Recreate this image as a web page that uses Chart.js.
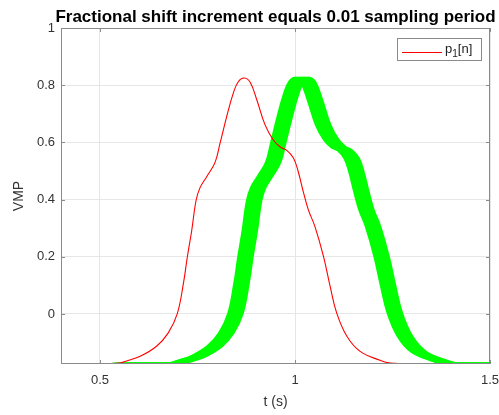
<!DOCTYPE html>
<html>
<head>
<meta charset="utf-8">
<script src="https://cdn.jsdelivr.net/npm/chart.js@4.4.1/dist/chart.umd.min.js"></script>
<style>
  html, body { margin: 0; padding: 0; background: #fff; }
  #wrap { width: 499px; height: 415px; }
</style>
</head>
<body>
<div id="wrap"><canvas id="c" width="499" height="415"></canvas></div>
<script>
// ---- Data ----
const tValues = [0.40, 0.50, 0.55, 0.564, 0.603, 0.645, 0.675, 0.698, 0.714, 0.724, 0.735, 0.746, 0.756, 0.774, 0.795, 0.808, 0.825, 0.842, 0.855, 0.870, 0.885, 0.902, 0.923, 0.944, 0.962, 0.979, 0.996, 1.008, 1.021, 1.034, 1.051, 1.073, 1.090, 1.107, 1.133, 1.167, 1.218, 1.244, 1.30, 1.50];
const p1Values = [-0.175, -0.175, -0.172, -0.166, -0.148, -0.113, -0.066, 0.000, 0.108, 0.200, 0.290, 0.395, 0.440, 0.481, 0.530, 0.598, 0.691, 0.773, 0.813, 0.825, 0.810, 0.749, 0.662, 0.609, 0.584, 0.572, 0.545, 0.499, 0.429, 0.365, 0.306, 0.201, 0.097, 0.003, -0.078, -0.131, -0.162, -0.172, -0.175, -0.175];
// fractional shifts (s) of the shifted copies forming the green band
const shifts = [0.131, 0.134, 0.137, 0.140, 0.143, 0.146, 0.149, 0.152, 0.155, 0.158, 0.161, 0.164, 0.167];
const xTicks = [0.5, 1, 1.5];
const yTicks = [0, 0.2, 0.4, 0.6, 0.8, 1];
const legendLabel = 'p₁[n]';
const titleText = 'Fractional shift increment equals 0.01 sampling period';

const FONT = '"Liberation Sans", Arial, Helvetica, sans-serif';

const redData = tValues.map((t, i) => ({x: t, y: p1Values[i]}));
const datasets = [{
  label: legendLabel,
  data: redData,
  borderColor: '#ff0000',
  borderWidth: 1.1,
  pointRadius: 0,
  tension: 0.4,
  fill: false,
  order: 0
}];
shifts.forEach((s) => {
  datasets.push({
    label: 'shift ' + s,
    data: tValues.map((t, i) => ({x: t + s, y: p1Values[i]})),
    borderColor: '#00ff00',
    borderWidth: 2.5,
    pointRadius: 0,
    tension: 0.4,
    fill: false,
    order: 1
  });
});

const boxPlugin = {
  id: 'matlabBox',
  afterDatasetsDraw(chart) {
    const {ctx, chartArea: a, scales} = chart;
    ctx.save();
    ctx.strokeStyle = '#8a8a8a';
    ctx.lineWidth = 1;
    ctx.beginPath();
    ctx.moveTo(a.left + 0.5, a.top + 0.5);
    ctx.lineTo(a.right - 0.5, a.top + 0.5);
    ctx.lineTo(a.right - 0.5, a.bottom - 0.5);
    ctx.lineTo(a.left + 0.5, a.bottom - 0.5);
    ctx.closePath();
    ctx.stroke();
    // inward ticks
    ctx.beginPath();
    xTicks.forEach(v => {
      const px = Math.round(scales.x.getPixelForValue(v)) + 0.5;
      ctx.moveTo(px, a.bottom); ctx.lineTo(px, a.bottom - 4);
      ctx.moveTo(px, a.top); ctx.lineTo(px, a.top + 4);
    });
    yTicks.forEach(v => {
      const py = Math.round(scales.y.getPixelForValue(v)) + 0.5;
      ctx.moveTo(a.left, py); ctx.lineTo(a.left + 4, py);
      ctx.moveTo(a.right, py); ctx.lineTo(a.right - 4, py);
    });
    ctx.stroke();

    // legend box
    const bx = a.right - 93, by = a.top + 10, bw = 84, bh = 22;
    ctx.fillStyle = '#ffffff';
    ctx.fillRect(bx, by, bw, bh);
    ctx.strokeStyle = '#8a8a8a';
    ctx.strokeRect(bx + 0.5, by + 0.5, bw, bh);
    ctx.strokeStyle = '#ff0000';
    ctx.lineWidth = 1;
    ctx.beginPath();
    ctx.moveTo(bx + 5, by + 14.5);
    ctx.lineTo(bx + 45, by + 14.5);
    ctx.stroke();
    ctx.fillStyle = '#222';
    ctx.textBaseline = 'alphabetic';
    ctx.textAlign = 'left';
    ctx.font = '13px ' + FONT;
    let tx = bx + 48;
    ctx.fillText('p', tx, by + 15);
    tx += ctx.measureText('p').width;
    ctx.font = '10px ' + FONT;
    ctx.fillText('1', tx, by + 18.5);
    tx += ctx.measureText('1').width;
    ctx.font = '13px ' + FONT;
    ctx.fillText('[n]', tx, by + 15);

    // title centred over the axes
    ctx.fillStyle = '#000';
    ctx.font = 'bold 17px ' + FONT;
    ctx.textAlign = 'center';
    ctx.fillText(titleText, (a.left + a.right) / 2, 22);
    ctx.restore();
  }
};

new Chart(document.getElementById('c'), {
  type: 'line',
  data: { datasets },
  plugins: [boxPlugin],
  options: {
    responsive: false,
    devicePixelRatio: 1,
    animation: false,
    layout: { padding: { left: 0, right: 9, top: 28, bottom: 0 } },
    plugins: {
      legend: { display: false },
      tooltip: { enabled: false },
      title: { display: false }
    },
    scales: {
      x: {
        type: 'linear',
        min: 0.4,
        max: 1.5,
        afterBuildTicks: (s) => { s.ticks = xTicks.map(v => ({value: v})); },
        afterFit: (s) => { s.height = 51; s.paddingLeft = 0; s.paddingRight = 0; },
        ticks: {
          color: '#333',
          font: { family: FONT, size: 13 },
          padding: 9,
          maxRotation: 0,
          callback: (v) => String(v)
        },
        grid: { color: '#e6e6e6', lineWidth: 1, drawTicks: false },
        border: { display: false },
        title: {
          display: true,
          text: 't (s)',
          color: '#333',
          font: { family: FONT, size: 14 },
          padding: { top: 0, bottom: 4 }
        }
      },
      y: {
        type: 'linear',
        min: -0.175,
        max: 1,
        afterBuildTicks: (s) => { s.ticks = yTicks.map(v => ({value: v})); },
        afterFit: (s) => { s.width = 61; s.paddingTop = 0; s.paddingBottom = 0; },
        ticks: {
          color: '#333',
          font: { family: FONT, size: 13 },
          padding: 6,
          callback: (v) => String(v)
        },
        grid: { color: '#e6e6e6', lineWidth: 1, drawTicks: false },
        border: { display: false },
        title: {
          display: true,
          text: 'VMP',
          color: '#333',
          font: { family: FONT, size: 14 },
          padding: { top: 11, bottom: 0 }
        }
      }
    }
  }
});
</script>
</body>
</html>
